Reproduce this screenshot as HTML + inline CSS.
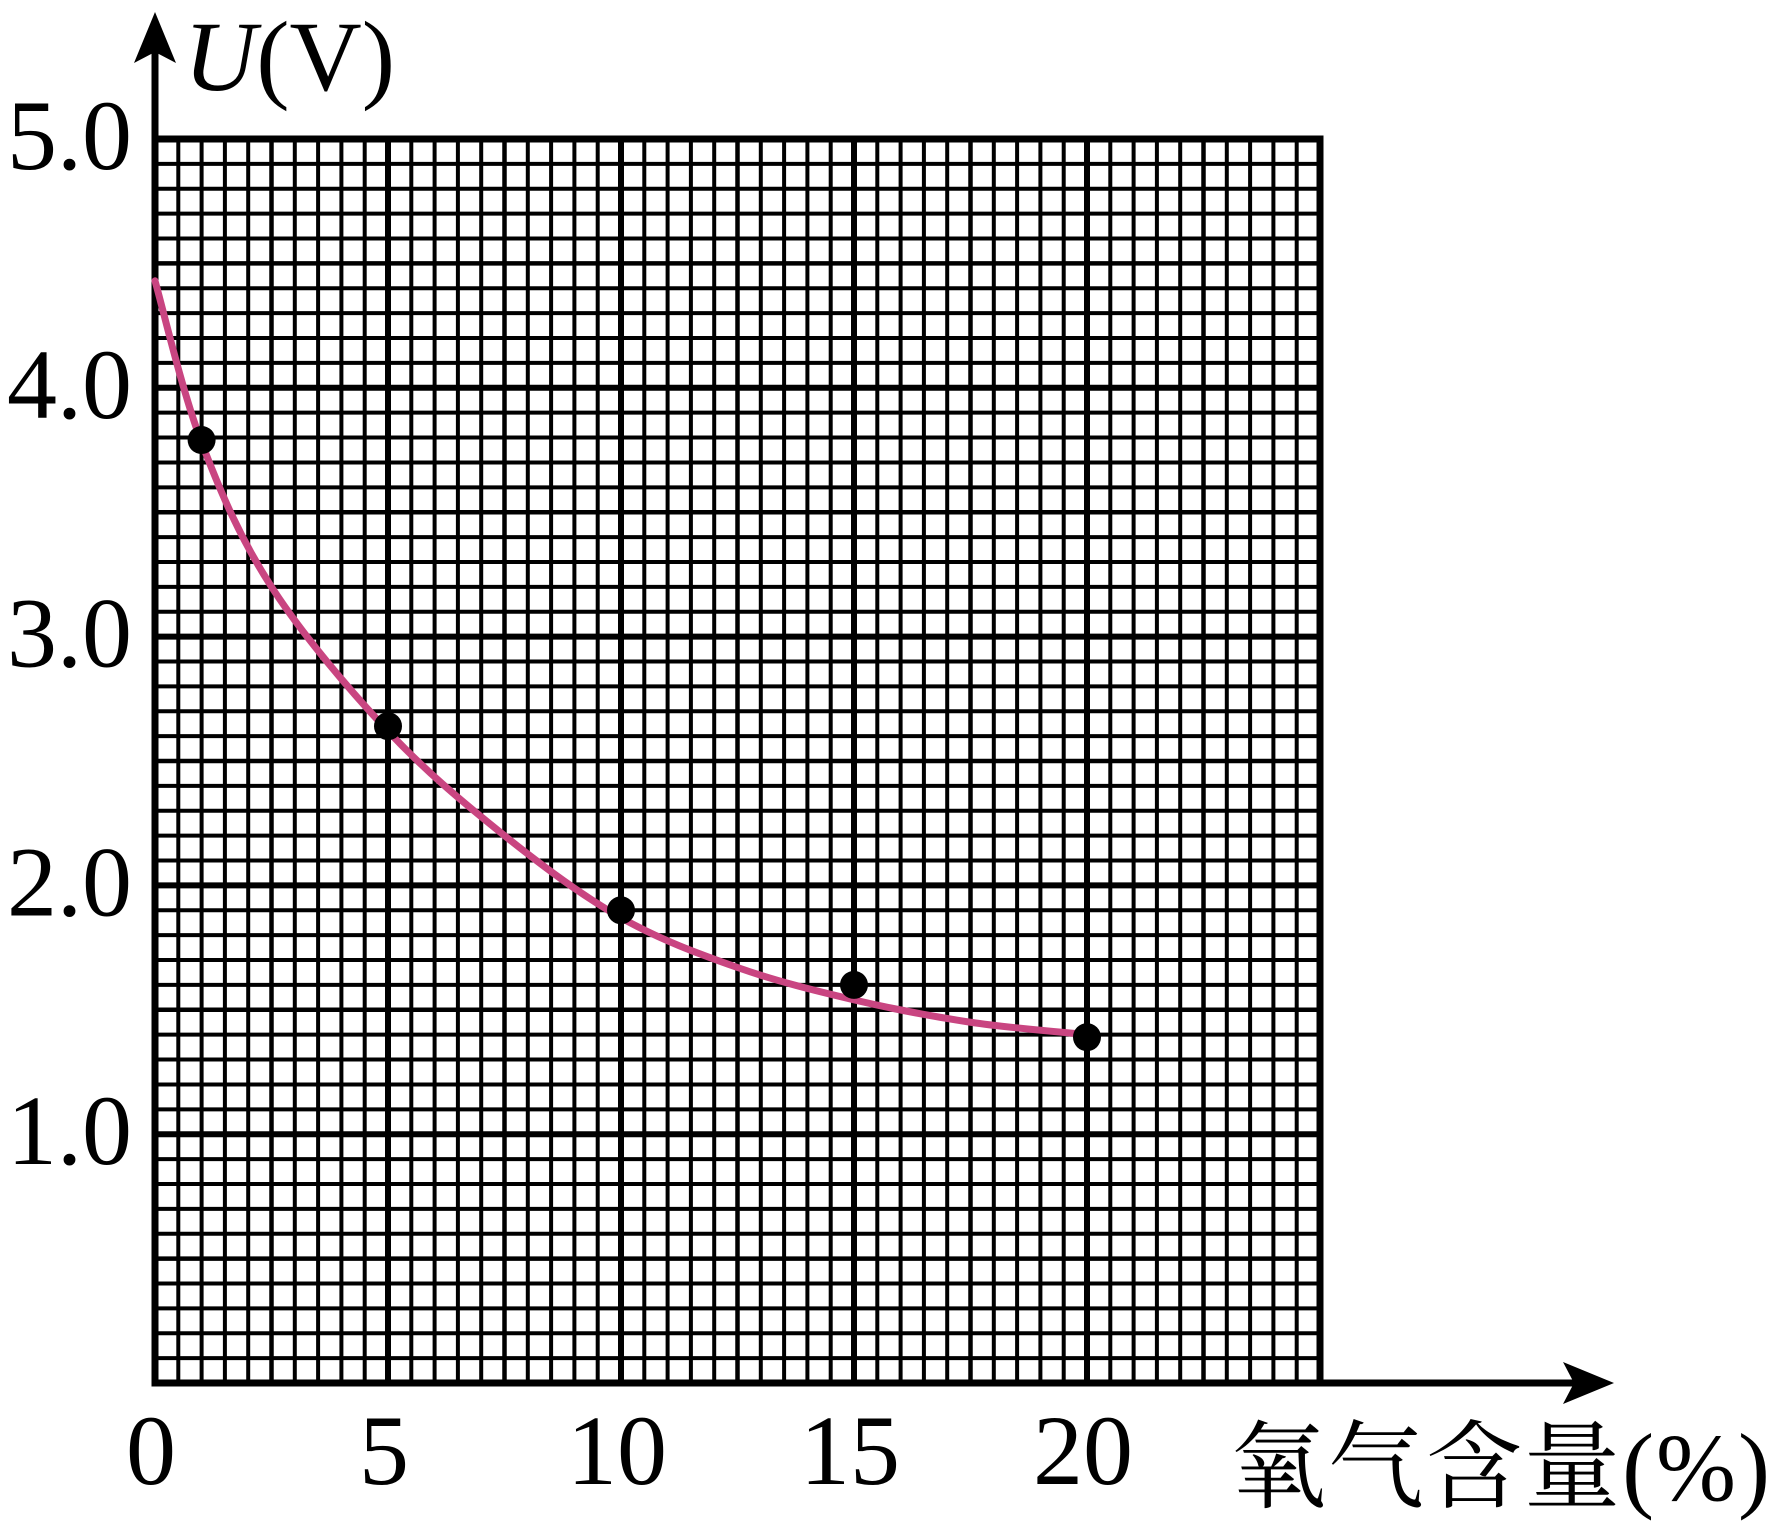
<!DOCTYPE html>
<html><head><meta charset="utf-8"><style>
html,body{margin:0;padding:0;background:#fff;}
svg{display:block;}
text{font-family:"Liberation Serif","Noto Serif CJK SC",serif;fill:#000;}
</style></head><body>
<svg id="chart" width="1782" height="1525" viewBox="0 0 1782 1525" xmlns="http://www.w3.org/2000/svg">
<g id="grid"></g>
<g id="axes"></g>
<g id="series"></g>
<g id="labels"></g>
</svg>
<script>
const pointX = [1, 5, 10, 15, 20];
const pointY = [3.79, 2.64, 1.90, 1.60, 1.39];
const curveX = [0, 1, 2.5, 5, 7.5, 10, 12.5, 15, 17.5, 20];
const curveY = [4.43, 3.78, 3.2, 2.62, 2.2, 1.87, 1.67, 1.54, 1.45, 1.40];
const xTicks = [0, 5, 10, 15, 20];
const xTickLabels = ["0", "5", "10", "15", "20"];
const yTicks = [1, 2, 3, 4, 5];
const yTickLabels = ["1.0", "2.0", "3.0", "4.0", "5.0"];

const NS = "http://www.w3.org/2000/svg";
const X0 = 155, XPX = 46.6, Y0 = 1383, YPX = 248.8;
const sx = v => X0 + v * XPX;
const sy = v => Y0 - v * YPX;
function mk(tag, attrs, parent) {
  const e = document.createElementNS(NS, tag);
  for (const k in attrs) e.setAttribute(k, attrs[k]);
  parent.appendChild(e);
  return e;
}
const grid = document.getElementById('grid');
const axes = document.getElementById('axes');
const series = document.getElementById('series');
const labels = document.getElementById('labels');

for (let i = 0; i <= 50; i++) {
  const v = i * 0.5;
  const major = i % 10 === 0;
  const l = mk('line', {x1: sx(v), x2: sx(v), y1: sy(5), y2: sy(0), stroke: '#000', 'stroke-width': major ? 6 : (i % 5 === 0 ? 4.5 : 4)}, grid);
  
  
}
for (let i = 0; i <= 50; i++) {
  const v = i * 0.1;
  const major = i % 10 === 0;
  const l = mk('line', {x1: sx(0), x2: sx(25), y1: sy(v), y2: sy(v), stroke: '#000', 'stroke-width': major ? 6 : (i % 5 === 0 ? 4.5 : 4)}, grid);
  
  
}
const br = mk('rect', {x: sx(0), y: sy(5), width: sx(25) - sx(0), height: sy(0) - sy(5), fill: 'none', stroke: '#000', 'stroke-width': 7}, grid);



const ya = mk('line', {x1: sx(0), x2: sx(0), y1: Y0 + 3, y2: 50, stroke: '#000', 'stroke-width': 7}, axes);


const yh = mk('polygon', {points: `${sx(0)},12 ${sx(0)-21},63 ${sx(0)},52 ${sx(0)+21},63`, fill: '#000'}, axes);


const xa = mk('line', {x1: sx(0) - 3, x2: 1580, y1: Y0, y2: Y0, stroke: '#000', 'stroke-width': 7}, axes);


const xh = mk('polygon', {points: `1614,${Y0} 1563,${Y0-21} 1574,${Y0} 1563,${Y0+21}`, fill: '#000'}, axes);



const pts = curveX.map((v, i) => [sx(v), sy(curveY[i])]);
let d = `M${pts[0][0]},${pts[0][1]}`;
for (let i = 0; i < pts.length - 1; i++) {
  const p0 = pts[Math.max(0, i - 1)], p1 = pts[i], p2 = pts[i + 1], p3 = pts[Math.min(pts.length - 1, i + 2)];
  const c1 = [p1[0] + (p2[0] - p0[0]) / 6, p1[1] + (p2[1] - p0[1]) / 6];
  const c2 = [p2[0] - (p3[0] - p1[0]) / 6, p2[1] - (p3[1] - p1[1]) / 6];
  d += ` C${c1[0]},${c1[1]} ${c2[0]},${c2[1]} ${p2[0]},${p2[1]}`;
}
const cv = mk('path', {d: d, fill: 'none', stroke: '#c94581', 'stroke-width': 7, 'stroke-linecap': 'round'}, series);


pointX.forEach((v, i) => {
  const c = mk('circle', {cx: sx(v), cy: sy(pointY[i]), r: 14, fill: '#000'}, series);
  
  
});

xTicks.forEach((v, i) => {
  const t = mk('text', {x: sx(v) - 4, y: 1484, 'font-size': 100, 'text-anchor': 'middle'}, labels);
  t.textContent = xTickLabels[i];
  
  
});
yTicks.forEach((v, i) => {
  const t = mk('text', {x: 132, y: sy(v) + 30, 'font-size': 100, 'text-anchor': 'end'}, labels);
  t.textContent = yTickLabels[i];
  
  
});
const yt = mk('text', {x: 184, y: 90, 'font-size': 100}, labels);
yt.innerHTML = '<tspan font-style="italic">U</tspan>(V)';


const xt = mk('text', {x: 1230, y: 1500, 'font-size': 96, 'textLength': 540}, labels);
xt.textContent = '氧气含量(%)';


</script>
</body></html>
